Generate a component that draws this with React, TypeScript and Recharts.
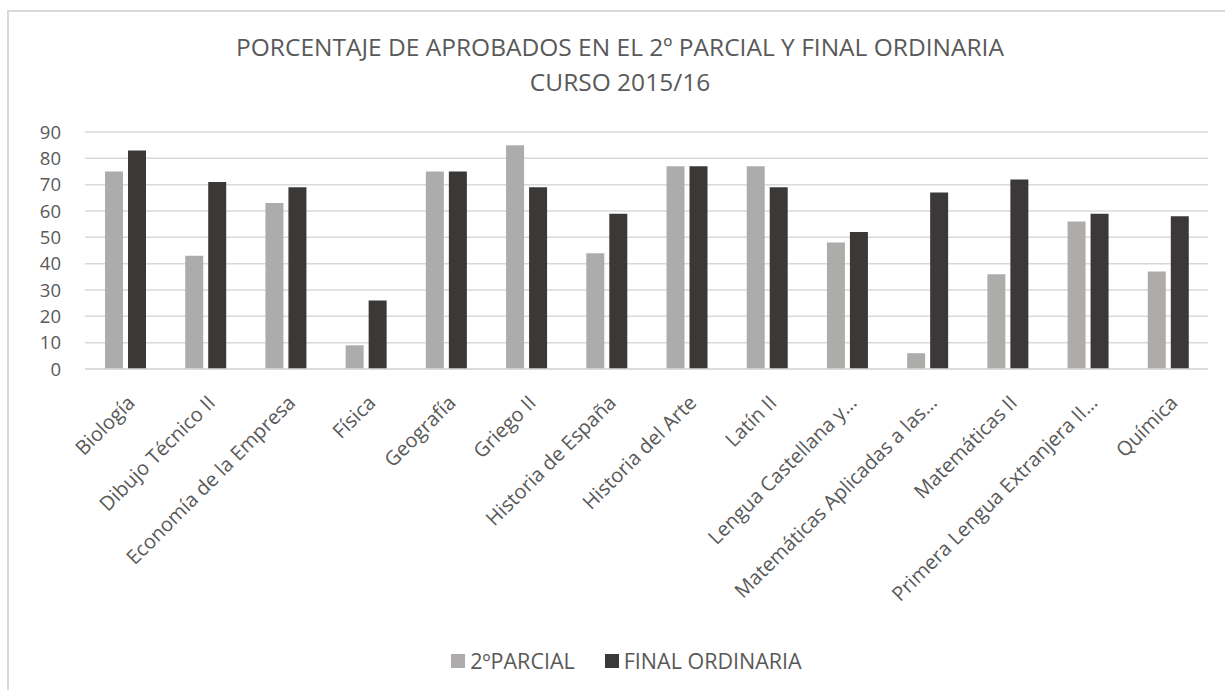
import React from 'react';
import {
  Bar,
  BarChart,
  CartesianGrid,
  Legend,
  XAxis,
  YAxis,
} from 'recharts';

// chart values
const subjects = [
  'Biología',
  'Dibujo Técnico II',
  'Economía de la Empresa',
  'Física',
  'Geografía',
  'Griego II',
  'Historia de España',
  'Historia del Arte',
  'Latín II',
  'Lengua Castellana y…',
  'Matemáticas Aplicadas a las…',
  'Matemáticas II',
  'Primera Lengua Extranjera II…',
  'Química',
];
const parcial = [75, 43, 63, 9, 75, 85, 44, 77, 77, 48, 6, 36, 56, 37];
const finalOrdinaria = [83, 71, 69, 26, 75, 69, 59, 77, 69, 52, 67, 72, 59, 58];
const yTicks = [0, 10, 20, 30, 40, 50, 60, 70, 80, 90];

const data = subjects.map((subject, i) => ({
  subject,
  parcial: parcial[i],
  final: finalOrdinaria[i],
}));

const FONT = '"Open Sans", sans-serif';
const TEXT = '#595959';

const AngledTick = ({ x, y, payload }: any) => {
  const tx = x + 1;
  const ty = y + 17;
  return (
    <text
      x={tx}
      y={ty}
      transform={`rotate(-45, ${tx}, ${ty})`}
      textAnchor="end"
      dy="0.71em"
      fontSize={20}
      fontFamily={FONT}
      fill={TEXT}
    >
      {payload.value}
    </text>
  );
};

const LegendContent = ({ payload }: any) => (
  <div
    style={{
      display: 'flex',
      justifyContent: 'center',
      gap: 30,
      fontFamily: FONT,
      fontSize: 21.5,
      color: TEXT,
    }}
  >
    {payload.map((entry: any) => (
      <div key={entry.value} style={{ display: 'flex', alignItems: 'center' }}>
        <span
          style={{
            width: 14,
            height: 14,
            background: entry.color,
            display: 'inline-block',
            marginRight: 5,
          }}
        />
        <span>{entry.value}</span>
      </div>
    ))}
  </div>
);

export default function App() {
  return (
    <div style={{ position: 'absolute', left: 0, top: 0, width: 1225, height: 690, background: '#fff' }}>
      <div
        style={{
          position: 'absolute',
          left: 7,
          top: 10,
          right: 0,
          bottom: 0,
          borderTop: '2px solid #D9D9D9',
          borderLeft: '2px solid #D9D9D9',
        }}
      />
      <div
        style={{
          position: 'absolute',
          left: 0,
          top: 29,
          width: 1240,
          textAlign: 'center',
          fontFamily: FONT,
          fontSize: 24.5,
          lineHeight: '35px',
          color: TEXT,
        }}
      >
        <div>PORCENTAJE DE APROBADOS EN EL 2º PARCIAL Y FINAL ORDINARIA</div>
        <div>CURSO 2015/16</div>
      </div>
      <BarChart
        width={1225}
        height={690}
        data={data}
        margin={{ top: 132, right: 17, bottom: 0, left: 0 }}
        barSize={18}
        barGap={5}
        style={{ position: 'absolute', left: 0, top: 0 }}
      >
        <CartesianGrid vertical={false} stroke="#D9D9D9" strokeWidth={1.5} />
        <XAxis
          dataKey="subject"
          interval={0}
          height={321}
          tickLine={false}
          axisLine={{ stroke: '#D9D9D9', strokeWidth: 1.5 }}
          tick={<AngledTick />}
        />
        <YAxis
          domain={[0, 90]}
          ticks={yTicks}
          width={85}
          axisLine={false}
          tickLine={false}
          tickMargin={18}
          tick={{ fontSize: 18.5, fill: TEXT, fontFamily: FONT }}
        />
        <Legend
          verticalAlign="middle"
          align="center"
          wrapperStyle={{ top: 646, left: 14, width: 1225 }}
          content={<LegendContent />}
        />
        <Bar dataKey="parcial" name="2ºPARCIAL" fill="#AEABAB" isAnimationActive={false} />
        <Bar dataKey="final" name="FINAL ORDINARIA" fill="#3B3838" isAnimationActive={false} />
      </BarChart>
    </div>
  );
}
